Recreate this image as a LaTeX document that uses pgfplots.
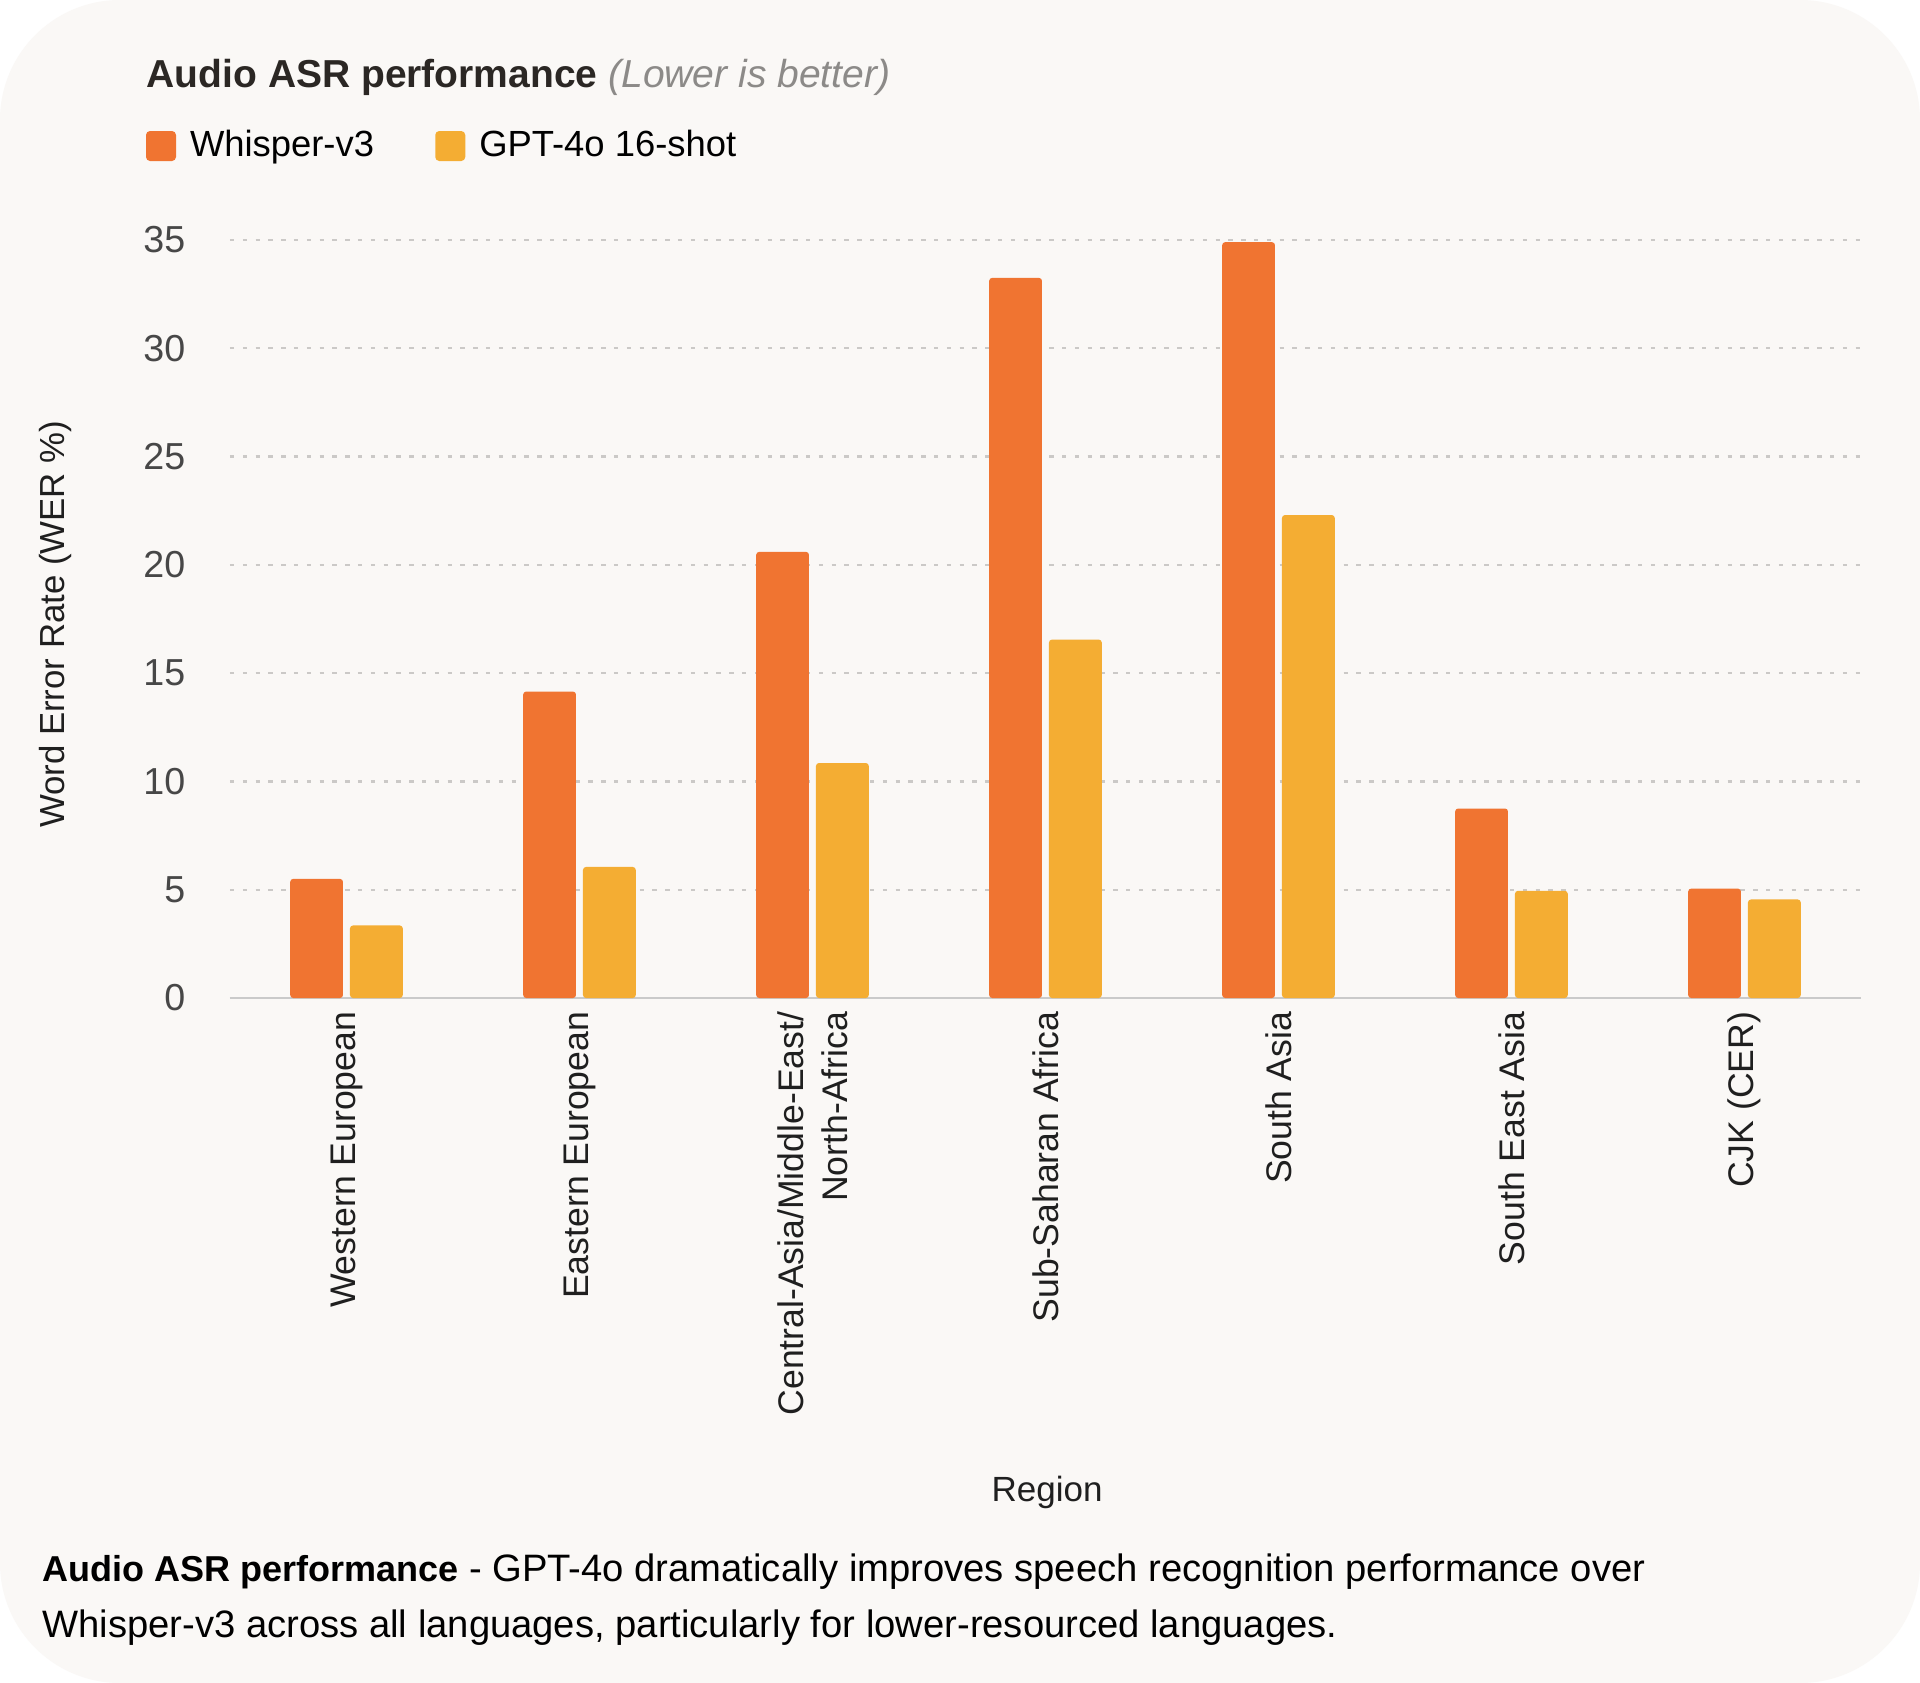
\documentclass[border=0pt]{standalone}
\usepackage{fontspec}
\setmainfont{Liberation Sans}
\usepackage{pgfplots}
\pgfplotsset{compat=1.18}
\definecolor{whisper}{HTML}{F07431}
\definecolor{gpt}{HTML}{F4AD33}
\definecolor{cardbg}{HTML}{FAF8F6}
\definecolor{gridc}{HTML}{CBC9C7}
\definecolor{basec}{HTML}{CACACA}
\definecolor{tickc}{HTML}{474747}
\definecolor{titlec}{HTML}{2B2724}
\definecolor{subc}{HTML}{8C8A88}
\pgfplotsset{sqlegend/.style={legend image code/.code={\fill[##1, rounded corners=1pt] (0pt,-3.75pt) rectangle (7.5pt,3.75pt);}}}
\begin{document}
\begin{tikzpicture}
\fill[white] (0,0) rectangle (480pt,420.75pt);
\fill[cardbg, rounded corners=30pt] (0,0) rectangle (480pt,420.75pt);
\node[anchor=base west, inner sep=0pt, text=titlec] at (36.5pt,398.75pt)
  {\fontsize{9.75pt}{12pt}\selectfont\textbf{Audio ASR performance} \textcolor{subc}{\textit{(Lower is better)}}};
\node[anchor=base west, inner sep=0pt, text=black] at (10.4pt,25.25pt)
  {\fontsize{9pt}{11pt}\selectfont\textbf{Audio ASR performance}\fontsize{9.55pt}{11pt}\selectfont{} - GPT-4o dramatically improves speech recognition performance over};
\node[anchor=base west, inner sep=0pt, text=black] at (10.4pt,11.25pt)
  {\fontsize{9.55pt}{11pt}\selectfont Whisper-v3 across all languages, particularly for lower-resourced languages.};
\begin{axis}[
  at={(57.5pt,171.25pt)}, anchor=south west,
  scale only axis, width=407.75pt, height=189.5pt,
  xmin=-0.5, xmax=6.5, ymin=0, ymax=35,
  clip=false,
  ybar=1.75pt, bar width=13.2pt,
  axis x line*=bottom, axis y line*=left,
  y axis line style={draw=none},
  x axis line style={basec, line width=0.7pt, -},
  major tick length=0pt, tick style={draw=none},
  ytick={0,5,...,35},
  ymajorgrids,
  grid style={gridc, line width=0.6pt, dash pattern=on 1.1pt off 2.1pt},
  xtick={0,...,6},
  xticklabels={Western European, Eastern European, {Central-Asia/Middle-East/\\North-Africa}, Sub-Saharan Africa, South Asia, South East Asia, CJK (CER)},
  x tick label style={rotate=90, anchor=east, align=right, inner sep=0pt, text=black!88, font=\fontsize{8.9pt}{11pt}\selectfont},
  xticklabel shift=3.25pt,
  y tick label style={inner sep=0pt, text=tickc, font=\fontsize{9.4pt}{11pt}\selectfont},
  yticklabel shift=11pt,
  /pgf/number format/assume math mode=true,
  ylabel={Word Error Rate (WER \%)},
  every axis y label/.style={at={(axis description cs:-0.1073,0.493)}, rotate=90, anchor=center, font=\fontsize{8.7pt}{10pt}\selectfont, text=black!88},
  xlabel={Region},
  every axis x label/.style={at={(axis description cs:0.501,-0.6636)}, anchor=base, font=\fontsize{8.75pt}{10pt}\selectfont, text=black!88},
  legend columns=2,
  legend style={at={(axis description cs:-0.0515,1.124)}, anchor=west, draw=none, fill=none, inner sep=0pt, outer sep=0pt,
    nodes={inner sep=0pt}, font=\fontsize{9.1pt}{11pt}\selectfont,
    /tikz/every odd column/.append style={column sep=3.5pt},
    /tikz/every even column/.append style={column sep=15.3pt}},
]
\addplot[fill=whisper, draw=none, rounded corners=0.75pt, sqlegend] coordinates {(0,5.5) (1,14.15) (2,20.6) (3,33.25) (4,34.9) (5,8.75) (6,5.05)};
\addplot[fill=gpt, draw=none, rounded corners=0.75pt, sqlegend] coordinates {(0,3.35) (1,6.05) (2,10.85) (3,16.55) (4,22.3) (5,4.95) (6,4.55)};
\legend{Whisper-v3, GPT-4o 16-shot}
\end{axis}
\end{tikzpicture}
\end{document}
